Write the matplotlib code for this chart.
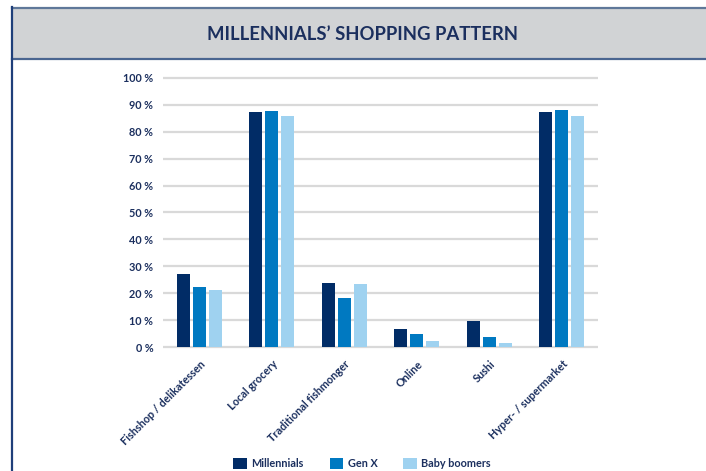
import numpy as np
import matplotlib.pyplot as plt
from matplotlib.patches import Rectangle, Patch
from matplotlib.lines import Line2D

# Share of each generation buying seafood at each outlet (%)
channels = ['Fishshop / delikatessen', 'Local grocery', 'Traditional fishmonger',
            'Online', 'Sushi', 'Hyper- / supermarket']
millennials = [27.3, 87.5, 23.9, 6.8, 9.8, 87.4]
gen_x = [22.4, 87.9, 18.3, 4.9, 3.8, 88.0]
baby_boomers = [21.3, 86.0, 23.5, 2.3, 1.6, 85.9]
series_names = ['Millennials', 'Gen X', 'Baby boomers']
colors = ['#012c66', '#0079c1', '#9fd2f0']

navy = '#1b2f5e'
plt.rcParams['font.family'] = ['Lato', 'DejaVu Sans']

fig = plt.figure(figsize=(7.06, 4.71), dpi=100)

# grey header band with its rules
W, H = 706.0, 471.0
fig.patches.append(Rectangle((12 / W, 1 - 58 / H), 1 - 12 / W, 51 / H,
                             transform=fig.transFigure, facecolor='#d1d3d5',
                             edgecolor='none', zorder=0))
fig.lines.append(Line2D([12 / W, 1], [1 - 7.5 / H] * 2, transform=fig.transFigure,
                        color='#5f7899', lw=1.6))
fig.lines.append(Line2D([12 / W, 1], [1 - 58.5 / H] * 2, transform=fig.transFigure,
                        color='#4a6590', lw=1.6))
fig.lines.append(Line2D([12 / W] * 2, [0, 1 - 7 / H], transform=fig.transFigure,
                        color='#1f3f7a', lw=1.6))
fig.text(0.514, 1 - 34.5 / H, 'MILLENNIALS\u2019 SHOPPING PATTERN', ha='center',
         va='center', fontsize=13.3, fontweight='bold', color=navy)

ylo, yhi = -0.6, 100.6
ax = fig.add_axes([163 / W, 1 - (347 + 0.6 * 2.69) / H, 435 / W, (101.2 * 2.69) / H])

x = np.arange(len(channels))
step = 0.22
width = 0.18
for i, (vals, c) in enumerate(zip([millennials, gen_x, baby_boomers], colors)):
    ax.bar(x + (i - 1) * step, vals, width=width, color=c, zorder=3)

ax.set_xlim(-0.5, len(channels) - 0.5)
ax.set_ylim(ylo, yhi)
ax.set_yticks(np.arange(0, 101, 10))
ax.set_yticklabels([f'{v} %' for v in range(0, 101, 10)])
ax.yaxis.grid(True, color='#d9d9d9', lw=1.6, zorder=0)
ax.set_axisbelow(True)
for s in ax.spines.values():
    s.set_visible(False)
ax.tick_params(axis='both', length=0, labelcolor=navy, labelsize=7.8)
ax.tick_params(axis='y', pad=7)
ax.set_xticks(x)
ax.set_xticklabels(channels, rotation=45, ha='right', rotation_mode='anchor')
ax.tick_params(axis='x', pad=7)
for lbl in ax.get_xticklabels() + ax.get_yticklabels():
    lbl.set_fontweight('bold')

handles = [Patch(facecolor=c, edgecolor='none') for c in colors]
leg = fig.legend(handles, series_names, loc='center', bbox_to_anchor=(0.513, 1 - 463.5 / H),
                 ncol=3, frameon=False, fontsize=7.8, handlelength=1.25, handleheight=1.25,
                 handletextpad=0.4, columnspacing=2.4, borderaxespad=0)
for t in leg.get_texts():
    t.set_color(navy)
    t.set_fontweight('bold')

fig.savefig('out.png', dpi=100)
